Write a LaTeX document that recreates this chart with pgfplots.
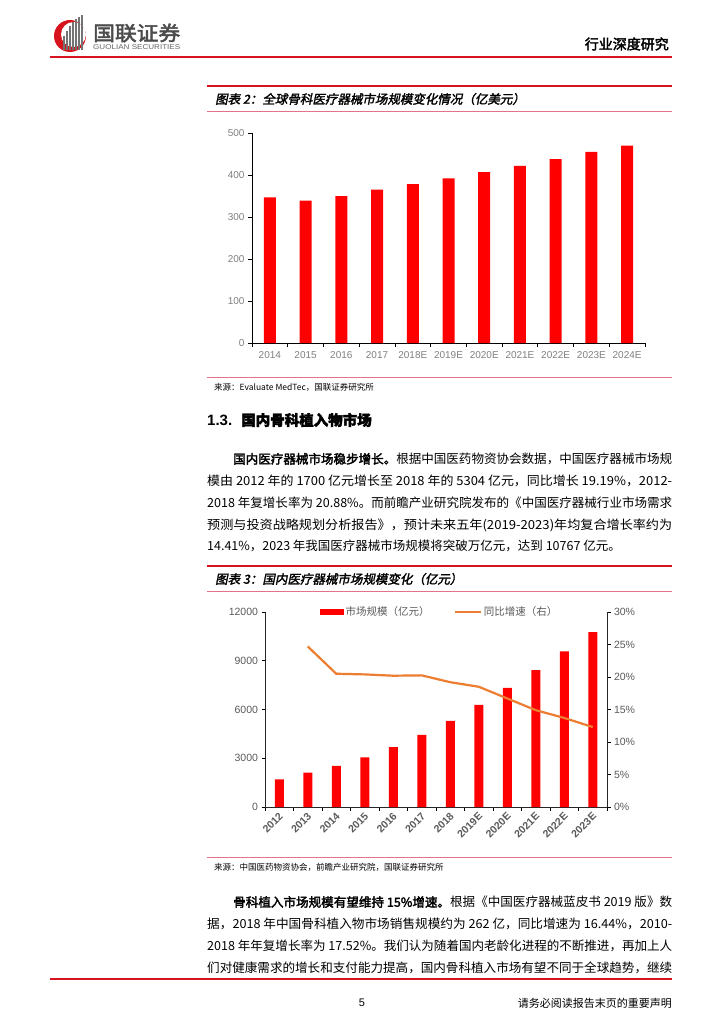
\documentclass[border=0pt]{standalone}
\usepackage{fontspec}
\setmainfont{Liberation Sans}
\newfontfamily\cjk{Noto Sans CJK SC}
\newfontfamily\cjkb[FakeBold=2.5]{Noto Sans CJK SC}
\newfontfamily\cjkt[FakeBold=2,FakeSlant=0.2]{Noto Sans CJK SC}
\usepackage{graphicx}
\usepackage{pgfplots}
\pgfplotsset{compat=1.18}
\definecolor{barred}{RGB}{255,0,0}
\definecolor{lineor}{RGB}{237,125,49}
\definecolor{hdrred}{RGB}{215,20,30}
\definecolor{pinkline}{RGB}{228,115,135}
\definecolor{logogray}{RGB}{115,115,115}
\definecolor{tickgray}{RGB}{128,128,128}
\definecolor{tickdark}{RGB}{90,90,90}
\newcommand\fs[1]{\fontsize{#1}{#1}\selectfont}
\newcommand\bodyline[4]{\node[anchor=west,inner sep=0pt] at (#1pt,-#2pt) {\resizebox{#3pt}{\height}{\cjk\fs{12.5}#4}};}
\newcommand\lastline[3]{\node[anchor=west,inner sep=0pt] at (#1pt,-#2pt) {\cjk\fs{12.5}#3};}
\begin{document}
\begin{tikzpicture}
\useasboundingbox[fill=white] (0,0) rectangle (724pt,-1024pt);
% ---------- header ----------
\fill[hdrred] (70pt,-36pt) circle (16pt);
\fill[white] (73.5pt,-34.5pt) circle (12.5pt);
\foreach \x/\h in {63/14,66/19,69/24,72/28,75/31,78/33,81/35}{
  \fill[logogray] (\x pt,-50pt) rectangle ++(1.6pt,\h pt);
}
\node[anchor=west,inner sep=0pt] at (93pt,-33pt) {\resizebox{87pt}{\height}{\cjkb\fs{20}\color{black!70}国联证券}};
\node[anchor=west,inner sep=0pt] at (93pt,-47.5pt) {\resizebox{87pt}{\height}{\fs{7}\color{black!60}GUOLIAN SECURITIES}};
\node[anchor=east,inner sep=0pt] at (669pt,-44pt) {\cjkb\fs{14}行业深度研究};
\draw[hdrred,line width=1.5pt] (50pt,-57pt) -- (672pt,-57pt);
% ---------- figure 2 frame ----------
\draw[hdrred,line width=1.2pt] (207pt,-86pt) -- (672pt,-86pt);
\node[anchor=west,inner sep=0pt] at (215pt,-99pt) {\cjkt\fs{12.5}图表 2：全球骨科医疗器械市场规模变化情况（亿美元）};
\draw[pinkline,line width=0.8pt] (207pt,-111pt) -- (672pt,-111pt);
\draw[pinkline,line width=0.8pt] (207pt,-377pt) -- (672pt,-377pt);
\node[anchor=west,inner sep=0pt] at (214pt,-387pt) {\cjk\fs{8.5}来源：Evaluate MedTec，国联证券研究所};
% ---------- figure 2 chart ----------
\begin{axis}[
  at={(252pt,-343pt)}, anchor=south west,
  scale only axis, width=393pt, height=210pt,
  ybar, bar width=12pt,
  xmin=-0.5, xmax=10.5, ymin=0, ymax=500,
  axis x line*=bottom, axis y line*=left,
  axis line style={black,line width=0.8pt},
  xtick={-0.5,0.5,...,10.5}, x tick label as interval,
  xticklabels={2014,2015,2016,2017,2018E,2019E,2020E,2021E,2022E,2023E,2024E},
  ytick={0,100,...,500},
  tick align=outside, major tick length=4pt,
  tick style={black,line width=0.7pt},
  /pgf/number format/assume math mode=true,
  ticklabel style={font=\fs{10}, text=tickgray},
  x tick label style={yshift=-1pt},
]
\addplot[fill=barred,draw=none] coordinates {
(0,347) (1,339) (2,350) (3,365) (4,378) (5,392) (6,407) (7,422) (8,438) (9,455) (10,470)};
\end{axis}
% ---------- section and paragraph ----------
\node[anchor=west,inner sep=0pt] at (207pt,-420pt) {\bfseries\fs{15}1.3.\hspace{9pt}{\cjkb\fs{14.5}国内骨科植入物市场}};
\bodyline{233}{459}{439}{{\cjkb 国内医疗器械市场稳步增长。}根据中国医药物资协会数据，中国医疗器械市场规}
\bodyline{207}{481}{465}{模由 2012 年的 1700 亿元增长至 2018 年的 5304 亿元，同比增长 19.19\%，2012-}
\bodyline{207}{503}{465}{2018 年复增长率为 20.88\%。而前瞻产业研究院发布的《中国医疗器械行业市场需求}
\bodyline{207}{525}{465}{预测与投资战略规划分析报告》，预计未来五年(2019-2023)年均复合增长率约为}
\lastline{207}{546}{14.41\%，2023 年我国医疗器械市场规模将突破万亿元，达到 10767 亿元。}
% ---------- figure 3 frame ----------
\draw[hdrred,line width=1.2pt] (207pt,-566pt) -- (672pt,-566pt);
\node[anchor=west,inner sep=0pt] at (215pt,-579pt) {\cjkt\fs{12.5}图表 3：国内医疗器械市场规模变化（亿元）};
\draw[pinkline,line width=0.8pt] (207pt,-591pt) -- (672pt,-591pt);
\draw[pinkline,line width=0.8pt] (207pt,-857pt) -- (672pt,-857pt);
\node[anchor=west,inner sep=0pt] at (214pt,-867pt) {\cjk\fs{8.5}来源：中国医药物资协会，前瞻产业研究院，国联证券研究所};
% ---------- figure 3 chart ----------
\begin{axis}[
  at={(265pt,-807pt)}, anchor=south west,
  scale only axis, width=342pt, height=195pt,
  ybar, bar width=9pt,
  xmin=-0.5, xmax=11.5, ymin=0, ymax=12000,
  axis x line*=bottom, axis y line*=left,
  axis line style={black!85,line width=0.8pt},
  xtick={-0.5,0.5,...,11.5}, x tick label as interval,
  xticklabels={2012,2013,2014,2015,2016,2017,2018,2019E,2020E,2021E,2022E,2023E},
  ytick={0,3000,...,12000},
  scaled y ticks=false,
  yticklabel style={/pgf/number format/1000 sep={}},
  tick align=outside, major tick length=3.5pt,
  tick style={black,line width=0.7pt},
  /pgf/number format/assume math mode=true,
  ticklabel style={font=\fs{10.5}, text=tickdark},
  x tick label style={font=\bfseries\fs{10.5}, rotate=45, anchor=east, yshift=-4pt, xshift=2pt},
  legend columns=2,
  legend style={at={(0.51,1)}, anchor=center, draw=none, fill=none,
    font=\cjk\fs{10.5}, text=tickdark,
    /tikz/every even column/.append style={column sep=22pt}},
]
\addplot[fill=barred,draw=none,
  legend image code/.code={\fill[barred] (0pt,-2.6pt) rectangle (24pt,2.6pt);}] coordinates {
(0,1700) (1,2109) (2,2539) (3,3051) (4,3686) (5,4444) (6,5304) (7,6287) (8,7331) (9,8417) (10,9584) (11,10767)};
\addlegendentry{市场规模（亿元）}
\addlegendimage{legend image code/.code={\draw[lineor,line width=2.2pt] (0pt,0pt) -- (26pt,0pt);}}
\addlegendentry{同比增速（右）}
\end{axis}
\begin{axis}[
  at={(265pt,-807pt)}, anchor=south west,
  scale only axis, width=342pt, height=195pt,
  xmin=-0.5, xmax=11.5, ymin=0, ymax=30,
  axis x line=none, axis y line*=right,
  axis line style={black!85,line width=0.8pt},
  ytick={0,5,...,30},
  yticklabel={\pgfmathprintnumber{\tick}\%},
  tick align=outside, major tick length=3.5pt,
  tick style={black,line width=0.7pt},
  /pgf/number format/assume math mode=true,
  ticklabel style={font=\fs{10.5}, text=tickdark},
]
\addplot[color=lineor,line width=2.2pt,mark=none] coordinates {
(1,24.7) (2,20.5) (3,20.4) (4,20.2) (5,20.25) (6,19.2) (7,18.5) (8,16.7) (9,14.9) (10,13.7) (11,12.3)};
\end{axis}
% ---------- paragraph 2 ----------
\bodyline{233}{902}{439}{{\cjkb 骨科植入市场规模有望维持 15\%增速。}根据《中国医疗器械蓝皮书 2019 版》数}
\bodyline{207}{924}{465}{据，2018 年中国骨科植入物市场销售规模约为 262 亿，同比增速为 16.44\%，2010-}
\bodyline{207}{946}{465}{2018 年年复增长率为 17.52\%。我们认为随着国内老龄化进程的不断推进，再加上人}
\bodyline{207}{968}{465}{们对健康需求的增长和支付能力提高，国内骨科植入市场有望不同于全球趋势，继续}
% ---------- footer ----------
\draw[hdrred,line width=1.2pt] (50pt,-979pt) -- (672pt,-979pt);
\node[inner sep=0pt] at (362pt,-1003pt) {\fs{11}5};
\node[anchor=east,inner sep=0pt] at (672pt,-1003pt) {\cjk\fs{11}请务必阅读报告末页的重要声明};
\end{tikzpicture}
\end{document}
